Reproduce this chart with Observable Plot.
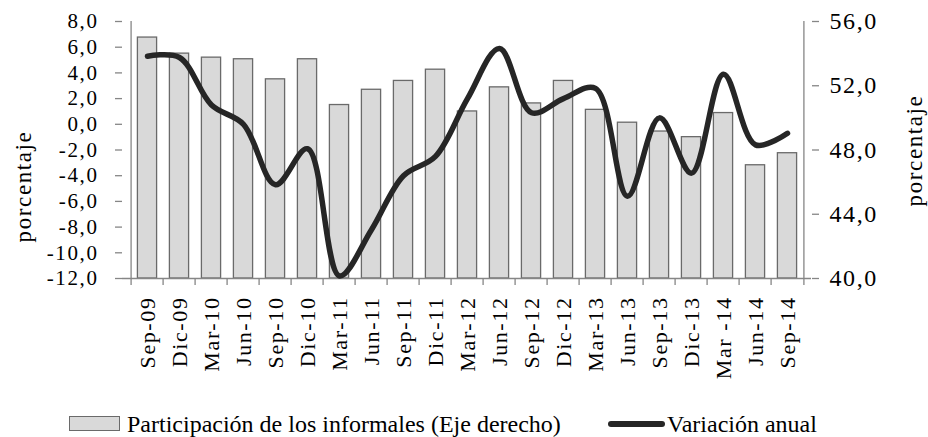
<!DOCTYPE html>
<html><head><meta charset="utf-8">
<script src="https://cdn.jsdelivr.net/npm/d3@7"></script>
<script src="https://cdn.jsdelivr.net/npm/@observablehq/plot@0.6"></script>
<style>
body{margin:0;background:#fff;}
#wrap{position:relative;width:928px;height:437px;overflow:hidden;font-family:"Liberation Serif","Tinos","Times New Roman","DejaVu Serif",serif;color:#000;}
#wrap svg{position:absolute;left:0;top:0;}
#wrap svg text{font-family:"Liberation Serif","Tinos","Times New Roman","DejaVu Serif",serif;}
.lg{position:absolute;}
.lgtext{font-size:24px;line-height:24px;top:412px;white-space:nowrap;}
</style></head><body><div id="wrap"></div>
<script>
const periods = ["Sep-09","Dic-09","Mar-10","Jun-10","Sep-10","Dic-10","Mar-11","Jun-11","Sep-11","Dic-11","Mar-12","Jun-12","Sep-12","Dic-12","Mar-13","Jun-13","Sep-13","Dic-13","Mar -14","Jun-14","Sep-14"];
// Participación de los informales (eje derecho, %)
const informales = [55.0,54.0,53.75,53.65,52.4,53.65,50.8,51.75,52.3,53.0,50.4,51.9,50.9,52.3,50.5,49.7,49.15,48.8,50.3,47.05,47.8];
// Variación anual (eje izquierdo, %)
const variacion = [5.3,5.2,1.5,0.0,-4.7,-1.9,-11.8,-8.2,-4.0,-2.5,2.0,5.9,0.9,2.0,2.8,-5.6,0.5,-3.8,3.9,-1.6,-0.7];
const leftTicks = [-12,-10,-8,-6,-4,-2,0,2,4,6,8];
const rightTicks = [40,44,48,52,56];
const legendLabels = ["Participación de los informales (Eje derecho)","Variación anual"];
const axisTitle = "porcentaje";

const W = 928, H = 400, mL = 122, mR = 117, mT = 21, mB = 122;
const leftDomain = [leftTicks[0], leftTicks[leftTicks.length-1]];
const rightDomain = [rightTicks[0], rightTicks[rightTicks.length-1]];
const toLeft = d3.scaleLinear(rightDomain, leftDomain);
const step = (W - mL - mR) / periods.length;
const pxPerUnit = (H - mT - mB) / (leftDomain[1] - leftDomain[0]);
const tickBelow = leftDomain[0] - 7 / pxPerUnit;
const fmt = v => v.toFixed(1).replace(".", ",");
const data = periods.map((p, i) => ({p, inf: informales[i], va: variacion[i]}));
const grey = "#868686";
const serif = '"Liberation Serif", Tinos, "Times New Roman", "DejaVu Serif", serif';

const chart = Plot.plot({
  width: W, height: H, marginLeft: mL, marginRight: mR, marginTop: mT, marginBottom: mB,
  style: {fontFamily: serif, background: "#fff", color: "#000", overflow: "visible"},
  x: {domain: periods, padding: 0, axis: null},
  y: {domain: leftDomain, axis: null},
  marks: [
    Plot.barY(data, {x: "p", y1: () => leftDomain[0], y2: d => toLeft(d.inf), insetLeft: 6.4, insetRight: 6.4, fill: "#d9d9d9", stroke: "#6a6a6a", strokeWidth: 1.3}),
    Plot.ruleY([leftDomain[0]], {stroke: grey, strokeWidth: 1.3}),
    Plot.ruleX(periods, {x: d => d, dx: -step/2, y1: () => leftDomain[0], y2: () => leftDomain[1], stroke: grey, strokeWidth: 1.3, filter: (d, i) => i === 0}),
    Plot.ruleX(periods, {x: d => d, dx: step/2, y1: () => leftDomain[0], y2: () => leftDomain[1], stroke: grey, strokeWidth: 1.3, filter: (d, i) => i === periods.length - 1}),
    Plot.ruleX(periods, {x: d => d, dx: -step/2, y1: () => leftDomain[0], y2: () => tickBelow, stroke: grey, strokeWidth: 1.3}),
    Plot.ruleX(periods, {x: d => d, dx: step/2, y1: () => leftDomain[0], y2: () => tickBelow, stroke: grey, strokeWidth: 1.3, filter: (d, i) => i === periods.length - 1}),
    Plot.axisY(leftTicks, {anchor: "left", label: null, tickSize: 7, tickPadding: 17, tickFormat: fmt, fontSize: 21, stroke: grey, fill: "#000", strokeWidth: 1.3}),
    Plot.axisY(rightTicks.map(toLeft), {anchor: "right", label: null, tickSize: 7, tickPadding: 11, tickFormat: d => fmt(toLeft.invert(d)), fontSize: 24, stroke: grey, fill: "#000", strokeWidth: 1.3}),
    Plot.axisX(periods, {anchor: "bottom", label: null, tickSize: 0, tickPadding: 18, tickRotate: -90, fontSize: 22, fill: "#000"}),
    Plot.line(data, {x: "p", y: "va", curve: "catmull-rom", stroke: "#262626", strokeWidth: 5.5, strokeLinecap: "round", strokeLinejoin: "round"})
  ]
});
const svg = d3.select(chart);
svg.selectAll("text").style("letter-spacing", "1.6px");
// axis titles
[[31, (mT + (H - mB)) / 2 + 37], [922, (mT + (H - mB)) / 2 + 1]].forEach(([tx, ty]) => {
  svg.append("text")
    .attr("transform", `translate(${tx},${ty}) rotate(-90)`)
    .attr("text-anchor", "middle")
    .attr("font-size", 23)
    .attr("fill", "#000")
    .style("letter-spacing", "1.6px")
    .text(axisTitle);
});
const wrap = document.getElementById("wrap");
wrap.appendChild(chart);

const sw1 = document.createElement("div");
sw1.className = "lg";
Object.assign(sw1.style, {left: "69px", top: "416px", width: "51px", height: "15px", background: "#d9d9d9", border: "1.3px solid #6a6a6a", boxSizing: "border-box"});
wrap.appendChild(sw1);
const t1 = document.createElement("div");
t1.className = "lg lgtext"; t1.style.left = "127px"; t1.textContent = legendLabels[0];
wrap.appendChild(t1);
const sw2 = document.createElement("div");
sw2.className = "lg";
Object.assign(sw2.style, {left: "608px", top: "421px", width: "57px", height: "6px", background: "#262626", borderRadius: "3px"});
wrap.appendChild(sw2);
const t2 = document.createElement("div");
t2.className = "lg lgtext"; t2.style.left = "667px"; t2.textContent = legendLabels[1];
wrap.appendChild(t2);
</script>
</body></html>
